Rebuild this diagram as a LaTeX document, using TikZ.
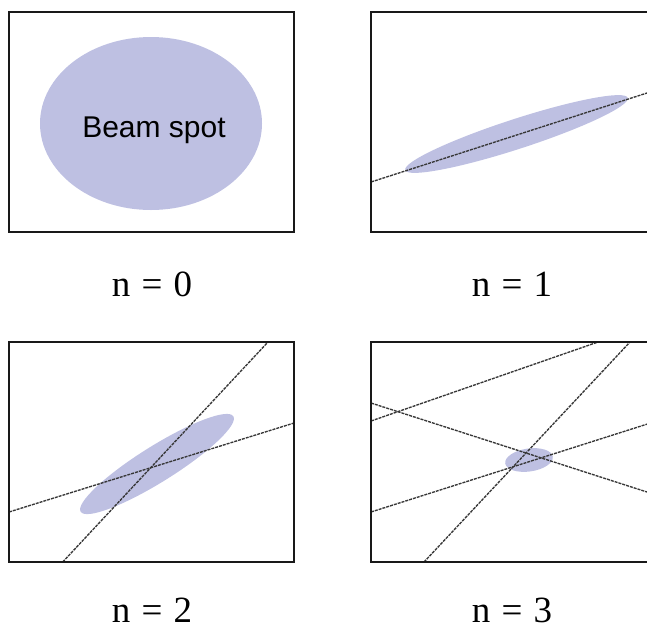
\documentclass[tikz,border=0pt]{standalone}
\usepackage{fontspec}
\setmainfont{Liberation Serif}
\newfontfamily\arialfont{Liberation Sans}
\definecolor{spot}{RGB}{190,192,226}
\definecolor{linegray}{RGB}{55,55,55}
\begin{document}
\begin{tikzpicture}[x=1pt,y=-1pt,
  panel/.style={draw=black!90,line width=2pt},
  ray/.style={draw=linegray,line width=1.35pt,dash pattern=on 3pt off 1pt},
  spotfill/.style={fill=spot},
  nlabel/.style={font=\fontsize{37}{40}\selectfont,anchor=base,inner sep=0pt}]
\useasboundingbox (0,0) rectangle (647,630);
\clip (0,0) rectangle (647,630);
% ---------- panel n=0
\fill[spotfill] (151,123.5) ellipse [x radius=111pt,y radius=86.5pt];
\node[anchor=base,inner sep=0pt,font=\arialfont\fontsize{30}{34}\selectfont] (bs) at (154,137) {Beam spot};
\draw[panel] (9,12) rectangle (294,232);
\node[nlabel] (n0) at (152,296) {n\hspace{0.3em}=\hspace{0.3em}0};
% ---------- panel n=1
\begin{scope}
\clip (371,12) rectangle (656,232);
\fill[spotfill,rotate around={18:(516.5,134)}] (516.5,134) ellipse [x radius=117pt,y radius=15pt];
\draw[ray] (371,182) -- (660,88.8);
\end{scope}
\draw[panel] (371,12) rectangle (656,232);
\node[nlabel] (n1) at (512,296) {n\hspace{0.3em}=\hspace{0.3em}1};
% ---------- panel n=2
\begin{scope}
\clip (9,342) rectangle (294,562);
\fill[spotfill,rotate around={32:(157,464)}] (157,464) ellipse [x radius=90pt,y radius=18pt];
\draw[ray] (62.7,562) -- (268,342);
\draw[ray] (9,512) -- (294,423);
\end{scope}
\draw[panel] (9,342) rectangle (294,562);
\node[nlabel] (n2) at (152,622) {n\hspace{0.3em}=\hspace{0.3em}2};
% ---------- panel n=3
\begin{scope}
\clip (371,342) rectangle (656,562);
\fill[spotfill,rotate around={8:(529,460)}] (529,460) ellipse [x radius=24pt,y radius=11.5pt];
\draw[ray] (424,562) -- (630,342);
\draw[ray] (371,421) -- (598,342);
\draw[ray] (371,403) -- (660,496.2);
\draw[ray] (371,512) -- (660,420);
\end{scope}
\draw[panel] (371,342) rectangle (656,562);
\node[nlabel] (n3) at (512,622) {n\hspace{0.3em}=\hspace{0.3em}3};
\end{tikzpicture}
\end{document}
